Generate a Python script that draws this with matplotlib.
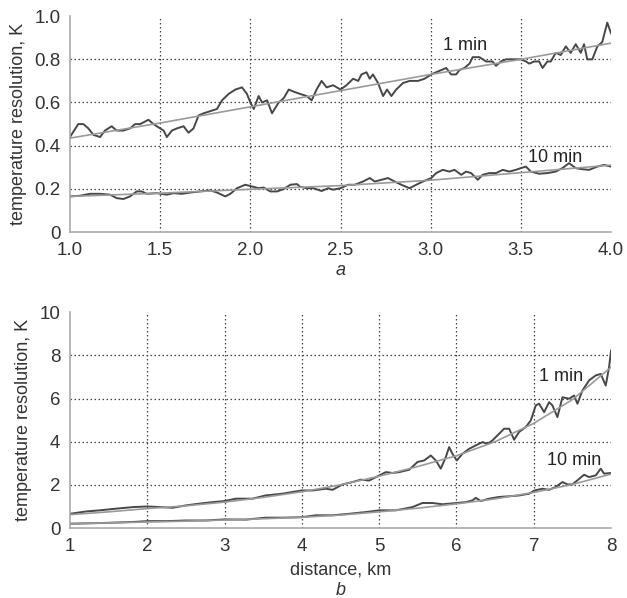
import matplotlib
matplotlib.use("Agg")
import matplotlib.pyplot as plt

plt.rcParams["font.family"] = ["Liberation Sans", "DejaVu Sans"]

# panel a: temperature resolution vs distance (km), 1 min and 10 min averaging
a_x_1min = [1.0, 1.046, 1.074, 1.102, 1.13, 1.167, 1.194, 1.231, 1.259, 1.296, 1.333, 1.361,
            1.389, 1.435, 1.463, 1.5, 1.519, 1.537, 1.565, 1.593, 1.63, 1.657, 1.685, 1.713,
            1.741, 1.778, 1.815, 1.843, 1.88, 1.917, 1.954, 1.981, 2.0, 2.019, 2.046, 2.065,
            2.093, 2.12, 2.157, 2.185, 2.213, 2.241, 2.275, 2.312, 2.34, 2.367, 2.395, 2.423,
            2.459, 2.5, 2.533, 2.57, 2.598, 2.616, 2.644, 2.662, 2.68, 2.708, 2.736, 2.758,
            2.782, 2.809, 2.846, 2.883, 2.929, 2.966, 3.003, 3.03, 3.058, 3.086, 3.113, 3.141,
            3.159, 3.187, 3.215, 3.233, 3.27, 3.307, 3.343, 3.362, 3.389, 3.417, 3.454, 3.5,
            3.528, 3.546, 3.574, 3.601, 3.62, 3.647, 3.666, 3.693, 3.721, 3.749, 3.776, 3.804,
            3.832, 3.85, 3.868, 3.896, 3.924, 3.951, 3.979, 4.0]
a_y_1min = [0.44, 0.50, 0.50, 0.48, 0.45, 0.44, 0.47, 0.49, 0.47, 0.47, 0.48, 0.50,
            0.50, 0.52, 0.50, 0.48, 0.47, 0.44, 0.47, 0.48, 0.49, 0.46, 0.48, 0.54,
            0.55, 0.56, 0.57, 0.61, 0.64, 0.66, 0.67, 0.64, 0.60, 0.57, 0.63, 0.60,
            0.61, 0.55, 0.60, 0.62, 0.66, 0.65, 0.64, 0.63, 0.61, 0.66, 0.70, 0.67,
            0.68, 0.66, 0.68, 0.71, 0.70, 0.73, 0.74, 0.71, 0.73, 0.69, 0.63, 0.66,
            0.63, 0.66, 0.69, 0.70, 0.70, 0.71, 0.73, 0.74, 0.75, 0.76, 0.73, 0.73,
            0.75, 0.76, 0.78, 0.81, 0.81, 0.79, 0.79, 0.77, 0.79, 0.80, 0.80, 0.80,
            0.79, 0.78, 0.79, 0.79, 0.76, 0.79, 0.79, 0.83, 0.82, 0.86, 0.83, 0.87,
            0.83, 0.87, 0.80, 0.80, 0.86, 0.88, 0.97, 0.92]

a_x_10min = [1.0, 1.056, 1.111, 1.167, 1.222, 1.259, 1.296, 1.333, 1.37, 1.398, 1.426, 1.481,
             1.537, 1.574, 1.62, 1.667, 1.722, 1.778, 1.815, 1.861, 1.889, 1.926, 1.972, 2.009,
             2.046, 2.074, 2.111, 2.148, 2.185, 2.222, 2.259, 2.275, 2.312, 2.349, 2.395, 2.432,
             2.459, 2.5, 2.542, 2.579, 2.625, 2.662, 2.69, 2.727, 2.763, 2.8, 2.837, 2.883,
             2.92, 2.957, 3.003, 3.03, 3.067, 3.104, 3.132, 3.169, 3.196, 3.224, 3.261, 3.288,
             3.325, 3.362, 3.399, 3.436, 3.472, 3.5, 3.528, 3.555, 3.601, 3.647, 3.693, 3.73,
             3.767, 3.804, 3.841, 3.878, 3.924, 3.961, 4.0]
a_y_10min = [0.165, 0.168, 0.177, 0.177, 0.173, 0.157, 0.153, 0.165, 0.188, 0.188, 0.177, 0.18,
             0.173, 0.18, 0.177, 0.183, 0.188, 0.193, 0.183, 0.165, 0.177, 0.203, 0.219, 0.211,
             0.203, 0.206, 0.188, 0.188, 0.199, 0.219, 0.222, 0.21, 0.203, 0.203, 0.19, 0.203,
             0.196, 0.203, 0.219, 0.219, 0.234, 0.25, 0.234, 0.242, 0.25, 0.234, 0.219, 0.203,
             0.219, 0.234, 0.25, 0.273, 0.288, 0.28, 0.288, 0.265, 0.28, 0.273, 0.242, 0.265,
             0.273, 0.273, 0.288, 0.28, 0.288, 0.296, 0.303, 0.28, 0.27, 0.273, 0.28, 0.296,
             0.319, 0.296, 0.291, 0.288, 0.303, 0.311, 0.303]

a_fit_x = [1.0, 1.5, 2.0, 2.5, 3.0, 3.5, 4.0]
a_fit_1min = [0.435, 0.505, 0.58, 0.655, 0.73, 0.80, 0.875]
a_fit_10min = [0.165, 0.18, 0.198, 0.215, 0.24, 0.275, 0.31]

# panel b
b_x_1min = [1.0, 1.215, 1.386, 1.601, 1.815, 2.0, 2.159, 2.33, 2.502, 2.674, 2.845, 3.0,
            3.146, 3.361, 3.532, 3.747, 3.996, 4.138, 4.31, 4.397, 4.526, 4.655, 4.763, 4.871,
            5.004, 5.086, 5.172, 5.259, 5.388, 5.496, 5.582, 5.668, 5.733, 5.797, 5.862, 5.905,
            5.948, 6.004, 6.078, 6.164, 6.25, 6.336, 6.401, 6.466, 6.552, 6.616, 6.681, 6.746,
            6.81, 6.897, 6.961, 7.026, 7.069, 7.134, 7.198, 7.241, 7.306, 7.371, 7.457, 7.522,
            7.565, 7.629, 7.716, 7.802, 7.866, 7.931, 7.974, 8.0]
b_y_1min = [0.66, 0.77, 0.82, 0.90, 0.97, 1.0, 0.97, 0.94, 1.05, 1.13, 1.2, 1.25,
            1.36, 1.36, 1.51, 1.59, 1.74, 1.74, 1.82, 1.77, 2.02, 2.13, 2.24, 2.2,
            2.44, 2.59, 2.55, 2.59, 2.7, 3.06, 3.13, 3.36, 3.13, 2.75, 3.29, 3.75,
            3.44, 3.13, 3.44, 3.67, 3.83, 3.98, 3.9, 4.06, 4.37, 4.6, 4.6, 4.09,
            4.45, 4.68, 4.98, 5.68, 5.76, 5.37, 5.83, 5.68, 5.14, 6.06, 5.99, 6.14,
            5.76, 6.37, 6.84, 7.07, 7.14, 6.6, 7.45, 8.22]

b_x_10min = [1.0, 1.386, 1.815, 2.0, 2.245, 2.502, 2.76, 3.0, 3.275, 3.532, 3.747, 3.996,
             4.181, 4.397, 4.612, 4.828, 5.004, 5.216, 5.431, 5.56, 5.69, 5.819, 6.004, 6.121,
             6.207, 6.25, 6.315, 6.422, 6.552, 6.681, 6.81, 6.94, 7.009, 7.112, 7.198, 7.284,
             7.371, 7.435, 7.5, 7.565, 7.651, 7.716, 7.802, 7.866, 7.909, 8.0]
b_y_10min = [0.2, 0.23, 0.28, 0.32, 0.32, 0.35, 0.35, 0.4, 0.39, 0.48, 0.48, 0.5,
             0.59, 0.59, 0.66, 0.74, 0.82, 0.82, 0.97, 1.16, 1.16, 1.10, 1.16, 1.2,
             1.28, 1.4, 1.25, 1.36, 1.44, 1.47, 1.51, 1.59, 1.74, 1.82, 1.77, 1.9,
             2.13, 2.02, 2.02, 2.21, 2.47, 2.36, 2.44, 2.75, 2.52, 2.55]

b_fit_x = [1.0, 1.5, 2.0, 2.5, 3.0, 3.5, 4.0, 4.5, 5.0, 5.5, 6.0, 6.5, 7.0, 7.5, 8.0]
b_fit_1min = [0.62, 0.75, 0.9, 1.03, 1.2, 1.42, 1.68, 2.0, 2.4, 2.85, 3.35, 4.0, 4.85, 5.95, 7.45]
b_fit_10min = [0.2, 0.24, 0.28, 0.32, 0.37, 0.43, 0.5, 0.6, 0.75, 0.92, 1.12, 1.35, 1.65, 2.02, 2.5]

a_xticks = [1.0, 1.5, 2.0, 2.5, 3.0, 3.5, 4.0]
a_yticks = [0, 0.2, 0.4, 0.6, 0.8, 1.0]
a_yticklabels = ["0", "0.2", "0.4", "0.6", "0.8", "1.0"]
b_xticks = [1, 2, 3, 4, 5, 6, 7, 8]
b_yticks = [0, 2, 4, 6, 8, 10]

NOISY = "#474747"
FIT = "#9a9a9a"
GRID = "#444444"
TXT = "#333333"


def style_axes(ax, xticks, yticks, xlim, ylim):
    ax.set_xlim(*xlim)
    ax.set_ylim(*ylim)
    ax.set_xticks(xticks)
    ax.set_yticks(yticks)
    for s in ["top", "right"]:
        ax.spines[s].set_visible(False)
    for s in ["left", "bottom"]:
        ax.spines[s].set_color("#aaaaaa")
        ax.spines[s].set_linewidth(1.2)
    ax.tick_params(length=0, labelsize=13.5, colors=TXT, pad=7)
    for xv in xticks[1:-1]:
        ax.axvline(xv, color=GRID, ls=(0, (1.2, 2.0)), lw=0.9, zorder=0)
    for yv in yticks[1:-1]:
        ax.axhline(yv, color=GRID, ls=(0, (1.2, 2.0)), lw=0.9, zorder=0)
    ax.set_ylabel("temperature resolution, K", fontsize=13, color=TXT, labelpad=5)


fig = plt.figure(figsize=(6.27, 5.98), dpi=100)
ax1 = fig.add_axes([0.1116, 0.612, 0.863, 0.361])
ax2 = fig.add_axes([0.1116, 0.117, 0.863, 0.361])

ax1.plot(a_fit_x, a_fit_1min, color=FIT, lw=1.2, zorder=3)
ax1.plot(a_x_1min, a_y_1min, color=NOISY, lw=1.4, zorder=2)
ax1.plot(a_fit_x, a_fit_10min, color=FIT, lw=1.2, zorder=3)
ax1.plot(a_x_10min, a_y_10min, color=NOISY, lw=1.4, zorder=2)
style_axes(ax1, a_xticks, a_yticks, (1.0, 4.0), (0, 1.0))
ax1.set_xticklabels([f"{v:.1f}" for v in a_xticks])
ax1.set_yticklabels(a_yticklabels)
ax1.text(3.07, 0.865, "1 min", fontsize=13, color="#222222", va="center", ha="left")
ax1.text(3.54, 0.345, "10 min", fontsize=13, color="#222222", va="center", ha="left")
ax1.text(0.5, -0.18, "a", transform=ax1.transAxes, fontsize=13, style="italic",
         color=TXT, ha="center", va="center")

ax2.plot(b_fit_x, b_fit_1min, color=FIT, lw=1.2, zorder=3)
ax2.plot(b_x_1min, b_y_1min, color=NOISY, lw=1.4, zorder=2)
ax2.plot(b_fit_x, b_fit_10min, color=FIT, lw=1.2, zorder=3)
ax2.plot(b_x_10min, b_y_10min, color=NOISY, lw=1.4, zorder=2)
style_axes(ax2, b_xticks, b_yticks, (1, 8), (0, 10))
ax2.set_xlabel("distance, km", fontsize=13, color=TXT, labelpad=5)
ax2.text(7.07, 7.0, "1 min", fontsize=13, color="#222222", va="center", ha="left")
ax2.text(7.17, 3.15, "10 min", fontsize=13, color="#222222", va="center", ha="left")
ax2.text(0.5, -0.29, "b", transform=ax2.transAxes, fontsize=13, style="italic",
         color=TXT, ha="center", va="center")

fig.savefig("out.png", dpi=100)
